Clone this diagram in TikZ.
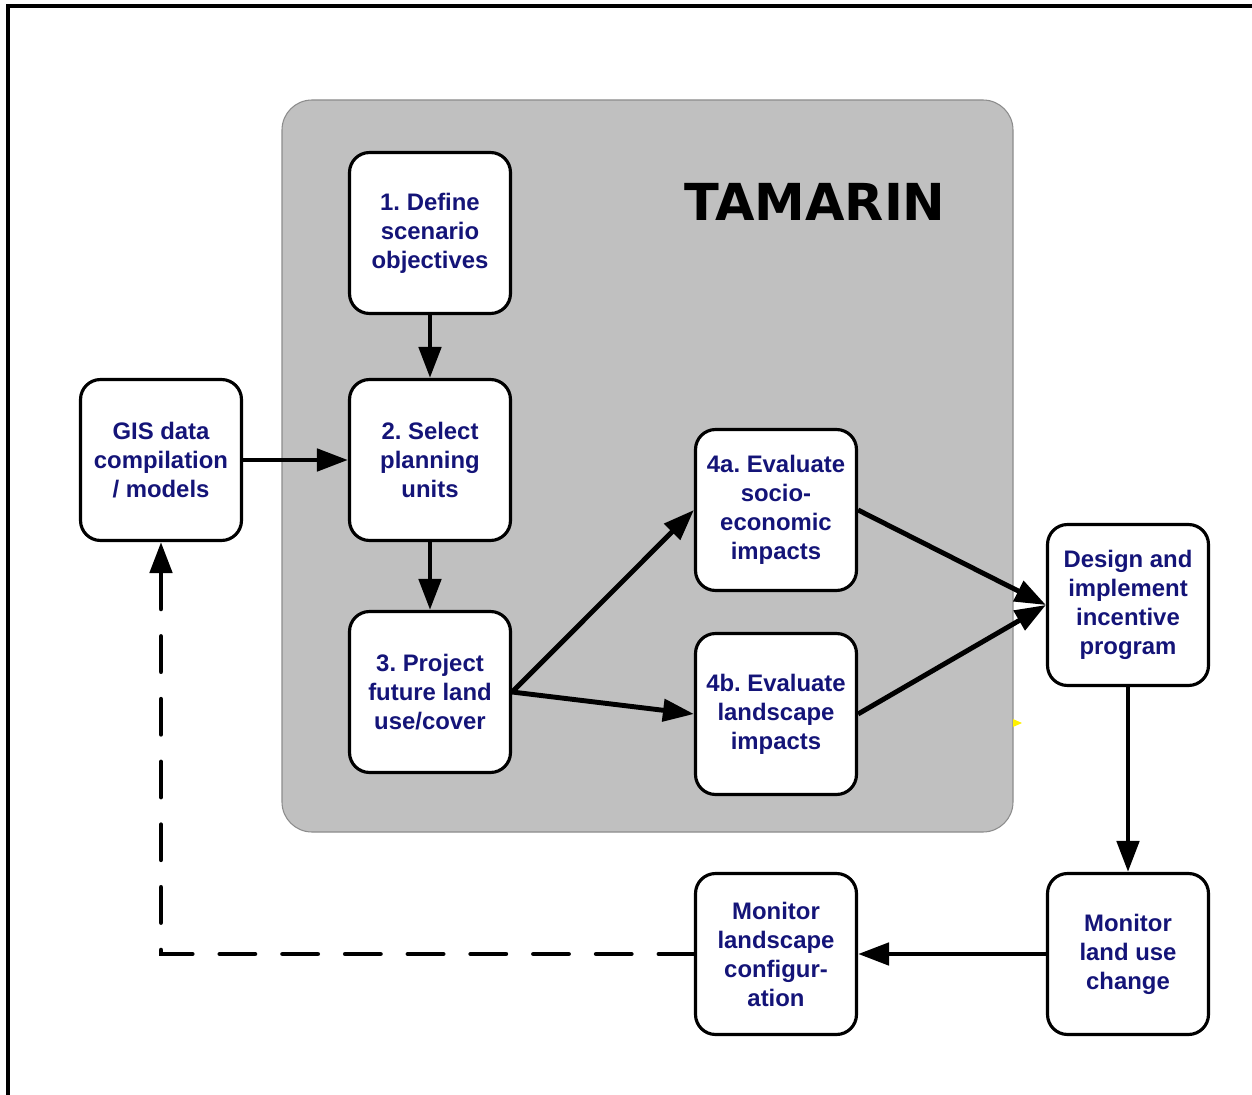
\documentclass[tikz,border=0pt]{standalone}
\usepackage{fontspec}
\setmainfont{Liberation Sans}
\newfontfamily\titlefont{DejaVu Sans}
\usetikzlibrary{arrows.meta}
\definecolor{boxtext}{RGB}{20,20,120}
\definecolor{panelgray}{RGB}{192,192,192}
\definecolor{paneledge}{RGB}{140,140,140}
\tikzset{
  stepbox/.style={draw=black, line width=1.8pt, fill=white, rounded corners=0.4cm,
    minimum width=3.22cm, minimum height=3.22cm, inner sep=0pt, align=center,
    text=boxtext, font=\fontsize{13.6}{16.5}\selectfont\bfseries},
  flow/.style={line width=2.8pt, -{Triangle[length=0.62cm,width=0.44cm]}},
  dashflow/.style={line width=2.8pt, line cap=round, dash pattern=on 19.9pt off 15.8pt, -{Triangle[length=0.62cm,width=0.44cm]}}
}
\begin{document}
\frenchspacing
\begin{tikzpicture}[x=0.02cm,y=-0.02cm]
\useasboundingbox (0,0) rectangle (1252,1095);
\fill[white] (0,0) rectangle (1252,1095);
% frame
\draw[line width=2pt] (8,1095) -- (8,6) -- (1252,6);
% panel
\draw[fill=panelgray, draw=paneledge, line width=0.6pt, rounded corners=0.6cm] (282,100) rectangle (1013,832);
\node[font=\titlefont\bfseries\fontsize{29}{34}\selectfont, text=black] (title) at (815,202) {TAMARIN};
% yellow mark
\fill[yellow] (1013,719) -- (1022,723) -- (1013,727) -- cycle;
% boxes
\node[stepbox] (n1) at (430,233) {1. Define\\scenario\\objectives};
\node[stepbox] (n2) at (430,460) {2. Select\\planning\\units};
\node[stepbox] (n3) at (430,692) {3. Project\\future land\\use/cover};
\node[stepbox] (gis) at (161,460) {GIS data\\compilation\\/ models};
\node[stepbox] (n4a) at (776,510) {4a. Evaluate\\socio-\\economic\\impacts};
\node[stepbox] (n4b) at (776,714) {4b. Evaluate\\landscape\\impacts};
\node[stepbox] (des) at (1128,605) {Design and\\implement\\incentive\\program};
\node[stepbox] (mlu) at (1128,954) {Monitor\\land use\\change};
\node[stepbox] (mlc) at (776,954) {Monitor\\landscape\\configur-\\ation};
% connectors
\draw[flow] (n1) -- (n2);
\draw[flow] (gis) -- (n2);
\draw[flow] (n2) -- (n3);
\draw[flow] (n3.east) -- (n4a.west);
\draw[flow] (n3.east) -- (n4b.west);
\draw[flow] (n4a.east) -- (des.west);
\draw[flow] (n4b.east) -- (des.west);
\draw[flow] (des) -- (mlu);
\draw[flow] (mlu) -- (mlc);
\draw[dashflow] (mlc.west) -| (gis.south);
\end{tikzpicture}
\end{document}
